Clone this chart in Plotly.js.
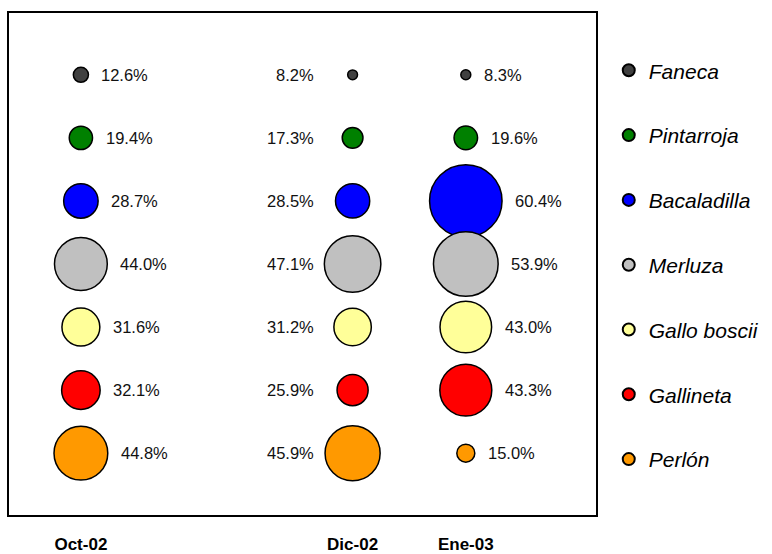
<!DOCTYPE html>
<html>
<head>
<meta charset="utf-8">
<script src="https://cdn.plot.ly/plotly-3.0.1.min.js"></script>
<style>
  html, body { margin: 0; padding: 0; background: #ffffff; }
  #chart { width: 772px; height: 554px; }
</style>
</head>
<body>
<div id="chart"></div>
<script>
// Sampling months and their positions on the horizontal axis
const months = ['Oct-02', 'Dic-02', 'Ene-03'];
const monthX = [1, 3.4, 4.4];

// Species, top to bottom
const species = ['Faneca', 'Pintarroja', 'Bacaladilla', 'Merluza', 'Gallo boscii', 'Gallineta', 'Perlón'];
const speciesColors = ['#404040', '#008000', '#0000ff', '#c0c0c0', '#ffff99', '#ff0000', '#ff9900'];

// Percentage per species for each month
const octValues = [12.6, 19.4, 28.7, 44.0, 31.6, 32.1, 44.8];
const dicValues = [8.2, 17.3, 28.5, 47.1, 31.2, 25.9, 45.9];
const eneValues = [8.3, 19.6, 60.4, 53.9, 43.0, 43.3, 15.0];

const monthValues = [octValues, dicValues, eneValues];

const PX_PER_UNIT = 1.2;      // bubble diameter in px per percentage point
const LABEL_GAP = 11;         // space between a bubble and its label
const FONT = '"Liberation Sans", Arial, sans-serif';

const traces = species.map((name, i) => ({
  type: 'scatter',
  mode: 'markers',
  name: name,
  legendgroup: name,
  x: monthX,
  y: monthValues.map(() => name),
  marker: {
    size: monthValues.map(vals => vals[i]),
    sizemode: 'diameter',
    sizeref: 1 / PX_PER_UNIT,
    color: speciesColors[i],
    line: { color: '#000000', width: 1.5 },
    opacity: 1
  },
  hovertemplate: name + ': %{marker.size:.1f}%<extra></extra>'
}));

// Value labels: right of the bubble for Oct and Ene, left-aligned column for Dic
const annotations = [];
monthValues.forEach((vals, m) => {
  vals.forEach((v, i) => {
    const leftSide = months[m] === 'Dic-02';
    annotations.push({
      x: monthX[m],
      y: species[i],
      xref: 'x', yref: 'y',
      text: v.toFixed(1) + '%',
      showarrow: false,
      xanchor: leftSide ? 'right' : 'left',
      yanchor: 'middle',
      xshift: leftSide ? -37 : v * PX_PER_UNIT / 2 + LABEL_GAP,
      font: { family: FONT, size: 16.5, color: '#111111' }
    });
  });
});

const layout = {
  width: 772,
  height: 554,
  margin: { l: 9, r: 175, t: 13, b: 39, pad: 0 },
  paper_bgcolor: '#ffffff',
  plot_bgcolor: '#ffffff',
  showlegend: true,
  legend: {
    x: 1.02, xanchor: 'left',
    y: 0.926, yanchor: 'top',
    traceorder: 'grouped',
    itemsizing: 'constant',
    tracegroupgap: 34.5,
    font: { family: FONT, size: 21, color: '#000000', style: 'italic' },
    bgcolor: 'rgba(0,0,0,0)'
  },
  xaxis: {
    range: [0.365, 5.55],
    tickmode: 'array',
    tickvals: monthX,
    ticktext: months.map(t => '<b>' + t + '</b>'),
    tickfont: { family: FONT, size: 17, color: '#000000' },
    ticks: 'outside',
    ticklen: 13,
    tickcolor: 'rgba(0,0,0,0)',
    showgrid: false,
    zeroline: false,
    showline: true,
    mirror: true,
    linecolor: '#000000',
    linewidth: 1.6,
    fixedrange: true
  },
  yaxis: {
    type: 'category',
    categoryorder: 'array',
    categoryarray: species,
    range: [6.98, -0.98],
    showticklabels: false,
    ticks: '',
    showgrid: false,
    zeroline: false,
    showline: true,
    mirror: true,
    linecolor: '#000000',
    linewidth: 1.6,
    fixedrange: true
  },
  annotations: annotations,
  font: { family: FONT }
};

Plotly.newPlot('chart', traces, layout, { displayModeBar: false, staticPlot: true });
</script>
</body>
</html>
